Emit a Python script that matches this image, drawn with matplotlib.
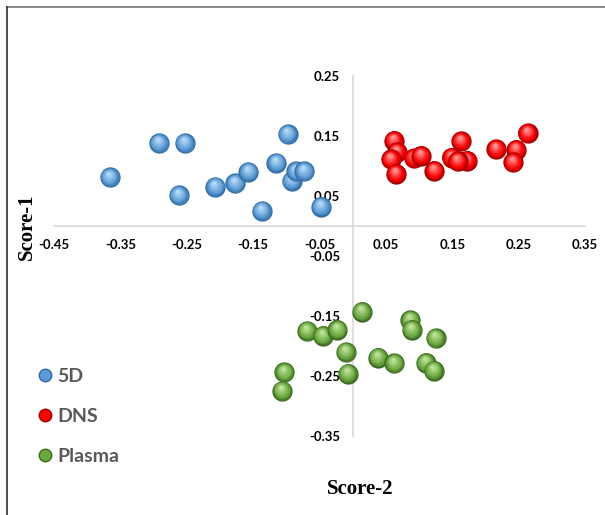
import numpy as np
import matplotlib
matplotlib.use("Agg")
import matplotlib.pyplot as plt
import matplotlib.transforms as mtransforms
from matplotlib.lines import Line2D
from matplotlib.colors import to_rgb

# ---------------- data ----------------
x_5d = [-0.366, -0.292, -0.253, -0.262, -0.207, -0.177, -0.157, -0.137,
        -0.115, -0.098, -0.092, -0.085, -0.073, -0.048]
y_5d = [0.081, 0.138, 0.138, 0.051, 0.065, 0.071, 0.090, 0.025,
        0.105, 0.153, 0.075, 0.091, 0.091, 0.032]

x_dns = [0.062, 0.0665, 0.0575, 0.065, 0.092, 0.103, 0.123, 0.149,
         0.163, 0.172, 0.158, 0.216, 0.246, 0.2415, 0.2635]
y_dns = [0.142, 0.123, 0.111, 0.087, 0.113, 0.117, 0.092, 0.114,
         0.141, 0.109, 0.108, 0.128, 0.127, 0.106, 0.1545]

x_plasma = [0.0137, -0.069, -0.045, -0.023, -0.0105, -0.0075, -0.103, -0.1065,
            0.038, 0.0625, 0.0866, 0.089, 0.125, 0.110, 0.122]
y_plasma = [-0.143, -0.175, -0.183, -0.173, -0.210, -0.246, -0.244, -0.275,
            -0.2195, -0.229, -0.157, -0.173, -0.187, -0.228, -0.241]

series_names = ["5D", "DNS", "Plasma"]
x_ticks = [-0.45, -0.35, -0.25, -0.15, -0.05, 0.05, 0.15, 0.25, 0.35]
y_ticks = [-0.35, -0.25, -0.15, -0.05, 0.05, 0.15, 0.25]
x_title = "Score-2"
y_title = "Score-1"

# ---------------- style ----------------
colors = {
    "5D": ("#2f6aa3", "#5b9bd5", "#b9dcf7"),
    "DNS": ("#a00000", "#ff0000", "#ff9a9a"),
    "Plasma": ("#3b6a20", "#6aa83f", "#c2e59c"),
}

W, H, DPI = 605, 515, 100
fig = plt.figure(figsize=(W / DPI, H / DPI), dpi=DPI)
fig.patch.set_facecolor("white")

L, R, T, B = 54, 585, 76, 436
ax = fig.add_axes([L / W, 1 - B / H, (R - L) / W, (B - T) / H])
ax.set_xlim(-0.45, 0.35)
ax.set_ylim(-0.35, 0.25)

for s in ["top", "right"]:
    ax.spines[s].set_visible(False)
ax.spines["left"].set_position(("data", 0))
ax.spines["bottom"].set_position(("data", 0))
for s in ["left", "bottom"]:
    ax.spines[s].set_color("#d9d9d9")
    ax.spines[s].set_linewidth(1.2)

tick_font = dict(family="Lato", weight="bold", size=9.5)
ax.set_xticks(x_ticks)
ax.set_xticklabels([f"{v:.2f}" for v in x_ticks], **tick_font)
ax.set_yticks(y_ticks)
ax.set_yticklabels([f"{v:.2f}" for v in y_ticks], **tick_font)
ax.tick_params(axis="both", length=0, colors="black")
ax.tick_params(axis="x", pad=9.5)
ax.tick_params(axis="y", pad=9)


def mix(c1, c2, t):
    a = np.array(to_rgb(c1))
    b = np.array(to_rgb(c2))
    return tuple(a + (b - a) * t)


def draw_spheres(xs, ys, dark, base, light, size_pt, z0):
    n = 14
    for k, (xv, yv) in enumerate(zip(xs, ys)):
        z = z0 + k
        for i in range(n):
            t = i / (n - 1)
            d = size_pt * (1 - 0.88 * t)
            off = (size_pt - d) / 2 * 0.45
            if t < 0.3:
                col = mix(dark, base, t / 0.3)
            else:
                col = mix(base, light, (t - 0.3) / 0.7)
            tr = mtransforms.offset_copy(ax.transData, fig=fig,
                                         x=-off * 0.35, y=off, units="points")
            ax.scatter([xv], [yv], s=d ** 2, color=col, transform=tr,
                       linewidths=0, zorder=z + i * 0.01)


size_pt = 14.6
draw_spheres(x_5d, y_5d, *colors["5D"], size_pt, 10)
draw_spheres(x_dns, y_dns, *colors["DNS"], size_pt, 40)
draw_spheres(x_plasma, y_plasma, *colors["Plasma"], size_pt, 70)

# legend
handles = [Line2D([], [], linestyle="none", marker="o", markersize=9,
                  markerfacecolor=colors[n][1], markeredgecolor=colors[n][0],
                  markeredgewidth=1.0, label=n) for n in series_names]
leg = fig.legend(handles=handles, loc="upper left",
                 bbox_to_anchor=(22 / W, 1 - 350 / H),
                 frameon=False, handlelength=0.6, handletextpad=0.3,
                 labelspacing=1.2,
                 prop=dict(family="Lato", weight="bold", size=14))
for t in leg.get_texts():
    t.set_color("#595959")

# axis titles
fig.text(360 / W, 1 - 489 / H, x_title, family="Liberation Serif",
         weight="bold", size=15, ha="center", va="center")
fig.text(27 / W, 1 - 227 / H, y_title, family="Liberation Serif",
         weight="bold", size=15, ha="center", va="center", rotation=90)

# outer frame (top and left borders)
fig.add_artist(Line2D([7 / W, 1], [1 - 7 / H, 1 - 7 / H], color="#7f7f7f",
                      lw=1.3, transform=fig.transFigure))
fig.add_artist(Line2D([7 / W, 7 / W], [0, 1 - 7 / H], color="#404040",
                      lw=1.3, transform=fig.transFigure))

fig.savefig("out.png", dpi=DPI)
